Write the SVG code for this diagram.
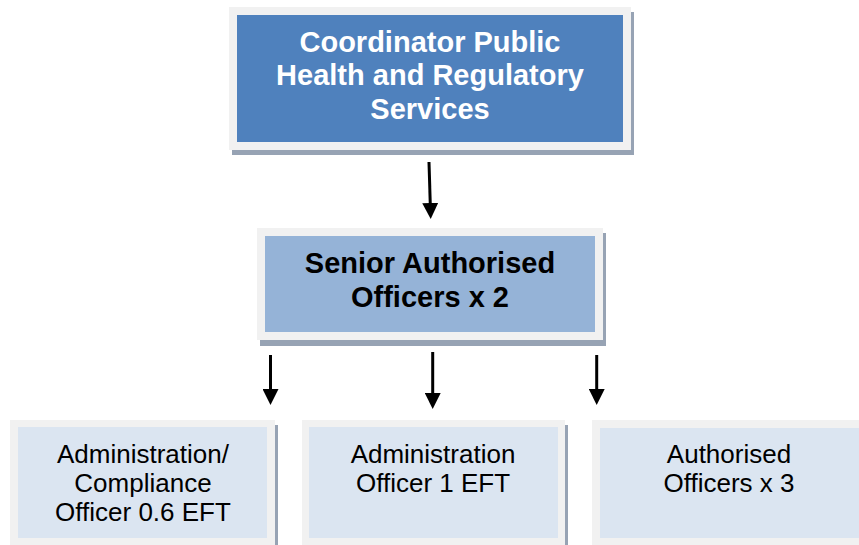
<svg xmlns="http://www.w3.org/2000/svg" width="859" height="545" viewBox="0 0 859 545">
<defs>
<style>
.shadow{fill:#97A3B4}
.frame{fill:#F1F1F1}
.top{fill:#4F81BD}
.mid{fill:#95B3D7}
.low{fill:#DBE5F1}
.tb{font-family:"Liberation Sans",Arial,sans-serif;font-weight:bold;font-size:29px;text-anchor:middle}
.tr{font-family:"Liberation Sans",Arial,sans-serif;font-size:26px;text-anchor:middle;fill:#000}
.conn{stroke:#000;stroke-width:3;fill:none;marker-end:url(#arrow)}
</style>
<marker id="arrow" markerUnits="userSpaceOnUse" markerWidth="16" markerHeight="16" viewBox="0 0 16 16" refX="2" refY="8" orient="auto">
<path d="M0,0 L16,8 L0,16 z" fill="#000"/>
</marker>
</defs>
<rect width="859" height="545" fill="#fff"/>
<g id="coordinator">
<rect class="shadow" x="232" y="12" width="402" height="143"/>
<rect class="frame" x="229" y="7" width="402" height="143"/>
<rect class="top" x="237" y="15" width="386" height="127"/>
<text class="tb" fill="#fff"><tspan x="430" y="52">Coordinator Public</tspan><tspan x="430" y="85">Health and Regulatory</tspan><tspan x="430" y="119">Services</tspan></text>
</g>
<g id="senior">
<rect class="shadow" x="260" y="233" width="346" height="113"/>
<rect class="frame" x="257" y="228" width="346" height="112"/>
<rect class="mid" x="265" y="236" width="330" height="96"/>
<text class="tb" fill="#000"><tspan x="430" y="273">Senior Authorised</tspan><tspan x="430" y="307">Officers x 2</tspan></text>
</g>
<g id="admin-compliance">
<rect class="shadow" x="13" y="425" width="265" height="125"/>
<rect class="frame" x="10" y="420" width="265" height="125"/>
<rect class="low" x="18" y="427" width="249" height="111"/>
<text class="tr"><tspan x="143" y="463">Administration/</tspan><tspan x="143" y="492">Compliance</tspan><tspan x="143" y="521">Officer 0.6 EFT</tspan></text>
</g>
<g id="admin-officer">
<rect class="shadow" x="305" y="425" width="263" height="125"/>
<rect class="frame" x="302" y="420" width="263" height="125"/>
<rect class="low" x="309" y="427" width="249" height="111"/>
<text class="tr"><tspan x="433" y="463">Administration</tspan><tspan x="433" y="492">Officer 1 EFT</tspan></text>
</g>
<g id="authorised">
<rect class="shadow" x="595" y="425" width="280" height="125"/>
<rect class="frame" x="592" y="420" width="280" height="125"/>
<rect class="low" x="600" y="428" width="265" height="110"/>
<text class="tr"><tspan x="729" y="463">Authorised</tspan><tspan x="729" y="492">Officers x 3</tspan></text>
</g>
<g id="connectors">
<line class="conn" x1="429" y1="162" x2="430.3" y2="205"/>
<line class="conn" x1="270.5" y1="355" x2="270.5" y2="391"/>
<line class="conn" x1="432.7" y1="352" x2="432.7" y2="395"/>
<line class="conn" x1="596.7" y1="355" x2="596.7" y2="391"/>
</g>
</svg>
